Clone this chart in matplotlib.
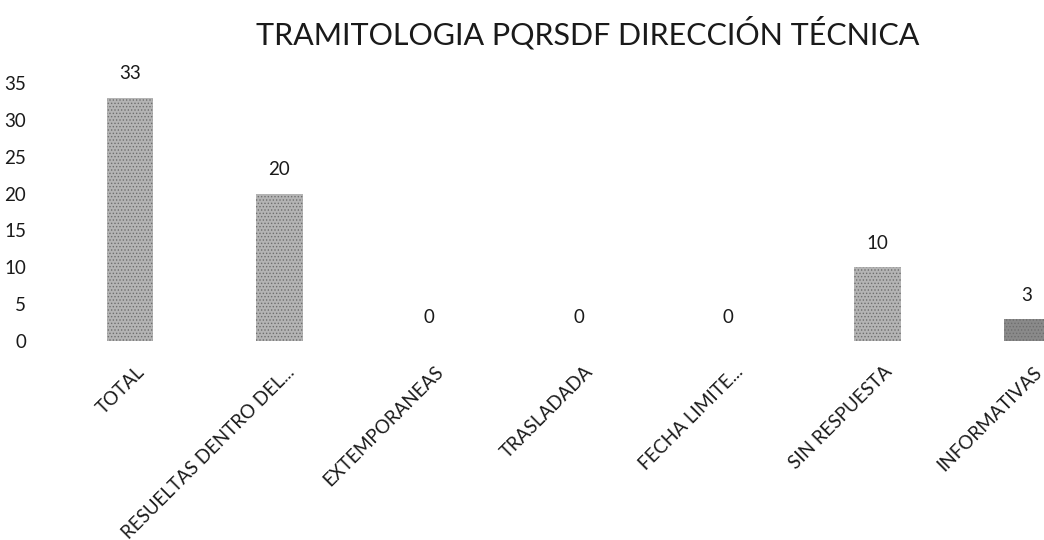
import numpy as np
import matplotlib
matplotlib.use("Agg")
import matplotlib.pyplot as plt
from matplotlib.transforms import ScaledTranslation

# -----------------------------
# Data
# -----------------------------
categories = ['TOTAL', 'RESUELTAS DENTRO DEL...', 'EXTEMPORANEAS', 'TRASLADADA',
              'FECHA LIMITE...', 'SIN RESPUESTA', 'INFORMATIVAS']
values = [33, 20, 0, 0, 0, 10, 3]
y_ticks = [0, 5, 10, 15, 20, 25, 30, 35]

plt.rcParams['font.family'] = ['Lato', 'DejaVu Sans']
plt.rcParams['hatch.linewidth'] = 0.6

fig = plt.figure(figsize=(10.44, 5.40), dpi=100)
# axes runs past the right edge so the last bar is cut like the scan
ax = fig.add_axes([0.0529, 0.3685, 1.0024, 0.478])

x = np.arange(len(categories))
colors = ['#b4b4b4'] * (len(categories) - 1) + ['#8a8a8a']
bars = ax.bar(x, values, width=0.31, color=colors, edgecolor='#6e6e6e',
              linewidth=0, hatch='.....')

ax.bar_label(bars, labels=[str(v) for v in values], padding=11,
             fontsize=13.5, color='#1a1a1a')

ax.set_xlim(-0.5, 6.5)
ax.set_ylim(0, 35)
ax.set_yticks(y_ticks)
ax.tick_params(axis='y', length=0, pad=21, labelsize=13.5, labelcolor='#1a1a1a')
ax.tick_params(axis='x', length=0, pad=16, labelsize=13.5, labelcolor='#1a1a1a')
ax.set_xticks(x)
ax.set_xticklabels(categories, rotation=45, ha='right', rotation_mode='anchor')
shift = ScaledTranslation(6 / 100, 0, fig.dpi_scale_trans)
for lbl in ax.get_xticklabels():
    lbl.set_transform(lbl.get_transform() + shift)

for s in ax.spines.values():
    s.set_visible(False)

fig.text(588 / 1044, 1 - 33 / 540, 'TRAMITOLOGIA PQRSDF DIRECCIÓN TÉCNICA',
         ha='center', va='center', fontsize=22, color='#1a1a1a')

fig.savefig('out.png', dpi=100)
